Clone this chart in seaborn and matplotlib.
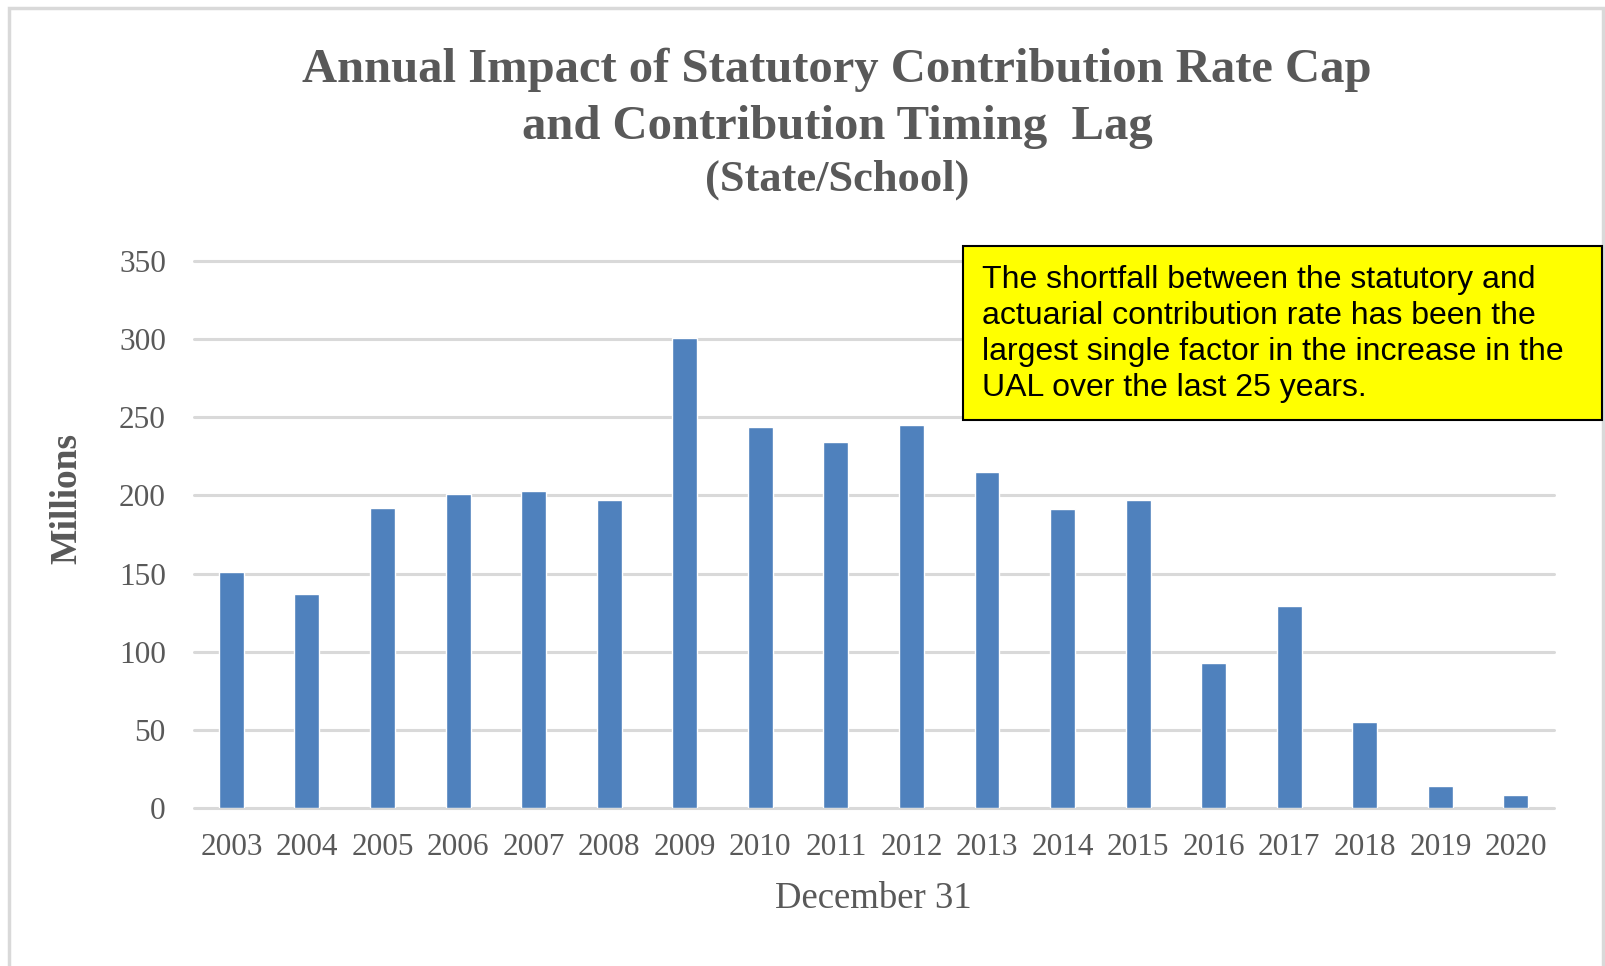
import matplotlib
matplotlib.use("Agg")
import matplotlib.pyplot as plt
import seaborn as sns
import pandas as pd
from matplotlib.patches import Rectangle

years = ["2003", "2004", "2005", "2006", "2007", "2008", "2009", "2010", "2011",
         "2012", "2013", "2014", "2015", "2016", "2017", "2018", "2019", "2020"]
impact = [151, 137, 192, 201, 203, 197, 301, 244, 234,
          245, 215, 191, 197, 93, 129, 55, 14, 8.5]
yticks = [0, 50, 100, 150, 200, 250, 300, 350]

title_lines = ["Annual Impact of Statutory Contribution Rate Cap",
               "and Contribution Timing  Lag"]
subtitle = "(State/School)"
note = ("The shortfall between the statutory and\n"
        "actuarial contribution rate has been the\n"
        "largest single factor in the increase in the\n"
        "UAL over the last 25 years.")

sns.set_theme(style="white")
plt.rcParams['font.family'] = ['Liberation Serif', 'DejaVu Serif']

W, H = 1606, 966
fig = plt.figure(figsize=(W / 100, H / 100), dpi=100)
ax = fig.add_axes([193.6 / W, 1 - 808 / H, (1553.7 - 193.6) / W, (808 - 261) / H])

df = pd.DataFrame({"year": years, "value": impact})
sns.barplot(data=df, x="year", y="value", order=years, color="#4F81BD",
            saturation=1, width=0.33, ax=ax, zorder=3)

ax.set_xlim(-0.5, len(years) - 0.5)
ax.set_ylim(0, 350)
ax.set_yticks(yticks)
ax.set_yticklabels([str(t) for t in yticks])
for y in yticks:
    ax.axhline(y, color="#D9D9D9", lw=2.2, zorder=1, clip_on=False)
for s in ax.spines.values():
    s.set_visible(False)
ax.tick_params(axis="both", length=0, labelsize=22.5, colors="#595959")
ax.tick_params(axis="y", pad=20)
ax.tick_params(axis="x", pad=18)
ax.set_xlabel("December 31", fontsize=26.5, color="#595959", labelpad=14)
ax.set_ylabel("")
fig.text(66.5 / W, 1 - 498 / H, "Millions", rotation=90, ha="center", va="center",
         fontsize=27, fontweight="bold", color="#595959")

cx = 837 / W
fig.text(cx, 1 - 70 / H, title_lines[0], ha="center", va="center", fontsize=35,
         fontweight="bold", color="#595959")
fig.text(cx, 1 - 127 / H, title_lines[1], ha="center", va="center", fontsize=35,
         fontweight="bold", color="#595959")
fig.text(cx, 1 - 180 / H, subtitle, ha="center", va="center", fontsize=32,
         fontweight="bold", color="#595959")

# outer border
fig.patches.append(Rectangle((9 / W, -0.02), (1603 - 9) / W, 1.02 - 8 / H,
                             transform=fig.transFigure, fill=False,
                             edgecolor="#D9D9D9", lw=2.5, zorder=0))

# annotation box
fig.patches.append(Rectangle((963 / W, 1 - 420 / H), (1602 - 963) / W, (420 - 246) / H,
                             transform=fig.transFigure, facecolor="#FFFF00",
                             edgecolor="black", lw=1.5, zorder=5))
fig.text(982 / W, 1 - 334 / H, note, ha="left", va="center", fontsize=23,
         family=["Liberation Sans", "DejaVu Sans"], color="black",
         linespacing=1.27, zorder=6)

fig.savefig("out.png", dpi=100)
